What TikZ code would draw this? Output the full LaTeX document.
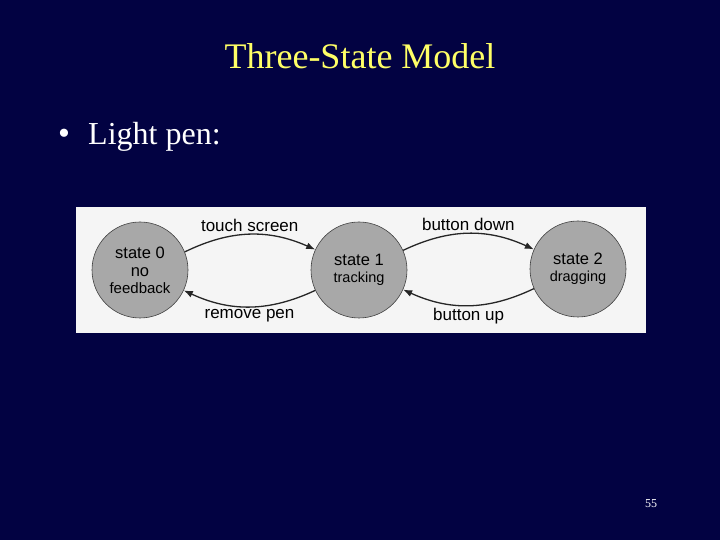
\documentclass[tikz,border=0pt]{standalone}
\usepackage{fontspec}
\setmainfont{Liberation Serif}
\newfontfamily\diagfont{Liberation Sans}
\usepackage{xcolor}
\usepackage{tikz}
\usetikzlibrary{positioning, arrows.meta}
\definecolor{slidebg}{RGB}{2,2,66}
\definecolor{ttl}{RGB}{255,255,102}
\definecolor{stfill}{RGB}{168,168,168}
\definecolor{pnl}{RGB}{245,245,245}
\tikzset{
  arr/.style={-{Latex[length=9pt,width=7pt]}, line width=1.3pt, draw=black!85},
  state/.style={circle, draw=black!75, fill=stfill, line width=0.6pt, minimum size=96pt,
    inner sep=0pt, align=center, font=\diagfont\fontsize{16.5}{18}\selectfont},
  lab/.style={font=\diagfont\fontsize{17}{17}\selectfont, inner sep=2pt},
  panel/.style={fill=pnl, draw=none}
}

\begin{document}
\begin{tikzpicture}[x=1pt, y=1pt]
% ---------- slide ----------
\fill[slidebg] (0,0) rectangle (720,540);
\useasboundingbox (0,0) rectangle (720,540);
\node[text=ttl, font=\fontsize{36}{40}\selectfont, anchor=base] (title) at (360,471)
  {Three-State Model};
\node[text=white, font=\fontsize{32}{36}\selectfont, anchor=base west, inner sep=0pt] (pen)
  at (88,395) {Light pen:};
\node[text=white, font=\fontsize{34}{36}\selectfont, anchor=base, inner sep=0pt] (bul)
  at (64,395) {\textbullet};
\node[text=white, font=\fontsize{12}{14}\selectfont] (pg) at (651,36) {55};
% ---------- diagram panel ----------
\draw[panel] (76,207) rectangle (646,333);
\node[state] (s0) at (140,270)
  {state 0\\no\\[-1pt]{\fontsize{15}{15}\selectfont feedback}};
\node[state] (s1) at (359,270) {state 1\\[-1pt]{\fontsize{14.5}{15}\selectfont tracking}};
\node[state] (s2) at (578,271) {state 2\\[-1pt]{\fontsize{14.5}{15}\selectfont dragging}};
% ---------- transitions ----------
\draw[arr] (s0.22) to[bend left=25] node[lab, midway, above] {touch screen} (s1.155);
\draw[arr] (s1.205) to[bend left=25] node[lab, midway, below] {remove pen} (s0.335);
\draw[arr] (s1.24) to[bend left=25] node[lab, midway, above] {button down} (s2.156);
\draw[arr] (s2.204) to[bend left=25] node[lab, midway, below] {button up} (s1.336);
\end{tikzpicture}
\end{document}
